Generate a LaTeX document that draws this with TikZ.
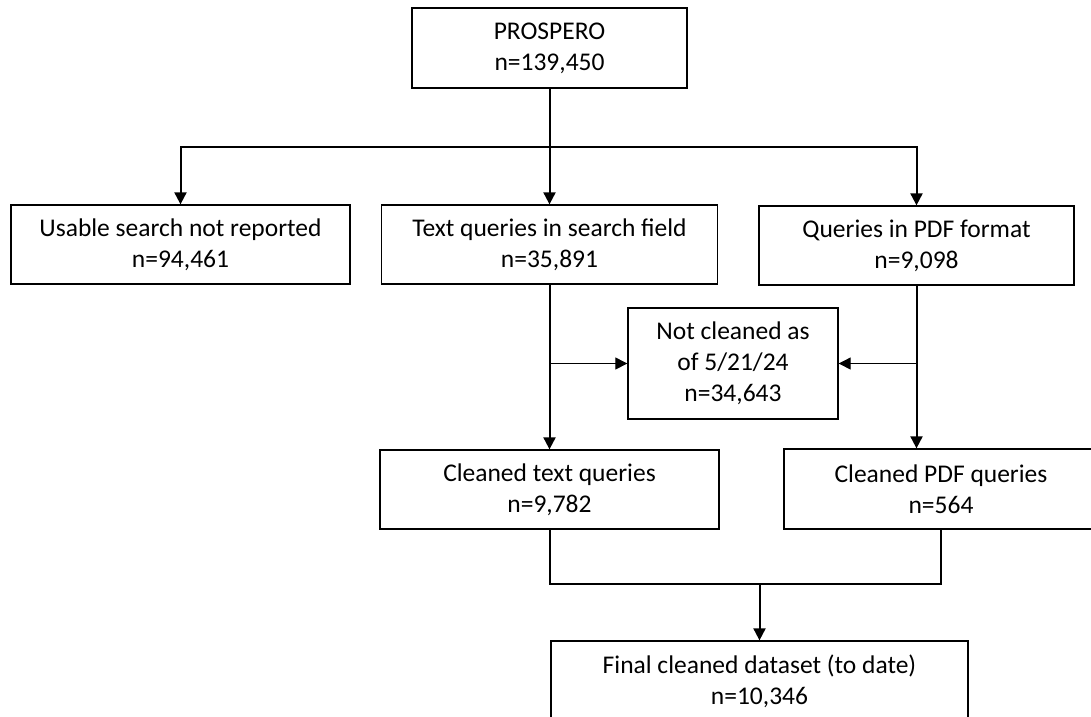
\documentclass[tikz,border=0pt]{standalone}
\usepackage{fontspec}
\setmainfont{Carlito}
\usetikzlibrary{arrows.meta}

\begin{document}
\begin{tikzpicture}[x=1pt, y=-1pt, every node/.style={inner sep=0pt},
	box/.style={draw=black, line width=1.3pt, align=center, font=\fontsize{25.5}{31}\selectfont},
	link/.style={line width=2pt, -{Triangle[width=12pt, length=12pt]}},
	thinlink/.style={line width=1pt, -{Triangle[width=12pt, length=12pt]}}]
	\useasboundingbox (0,0) rectangle (1091,716);
	\clip (0,0) rectangle (1091,716);
	\coordinate (split) at (549.5,147);
	\coordinate (merge) at (759.5,584);
	\node[box, minimum width=275pt, minimum height=80pt] (prospero) at (549.5,48) {PROSPERO\\n=139,450};
	\node[box, minimum width=339pt, minimum height=79pt] (usable) at (180.5,244.5) {Usable search not reported\\n=94,461};
	\node[box, minimum width=336pt, minimum height=79pt] (textq) at (549.5,244.5) {Text queries in search field\\n=35,891};
	\node[box, minimum width=315pt, minimum height=79pt] (pdfq) at (916.5,245.5) {Queries in PDF format\\n=9,098};
	\node[box, minimum width=210pt, minimum height=111pt] (notclean) at (733,363.5) {Not cleaned as\\of 5/21/24\\n=34,643};
	\node[box, minimum width=339pt, minimum height=79pt] (cleantext) at (549.5,489.5) {Cleaned text queries\\n=9,782};
	\node[box, minimum width=314pt, minimum height=80pt] (cleanpdf) at (941,489) {Cleaned PDF queries\\n=564};
	\node[box, minimum width=417pt, minimum height=80pt] (final) at (759.5,681) {Final cleaned dataset (to date)\\n=10,346};

	\draw[link] (prospero) -- (textq);
	\draw[link] (split) -| (usable);
	\draw[link] (split) -| (pdfq.north);
	\draw[link] (textq) -- (cleantext);
	\draw[link] (pdfq.south) -- (pdfq.south |- cleanpdf.north);
	\draw[thinlink] (textq.south |- notclean.west) -- (notclean.west);
	\draw[thinlink] (pdfq.south |- notclean.east) -- (notclean.east);
	\draw[line width=2pt] (cleantext.south) |- (cleanpdf.south |- merge) -- (cleanpdf.south);
	\draw[link] (merge) -- (final);

\end{tikzpicture}
\end{document}
